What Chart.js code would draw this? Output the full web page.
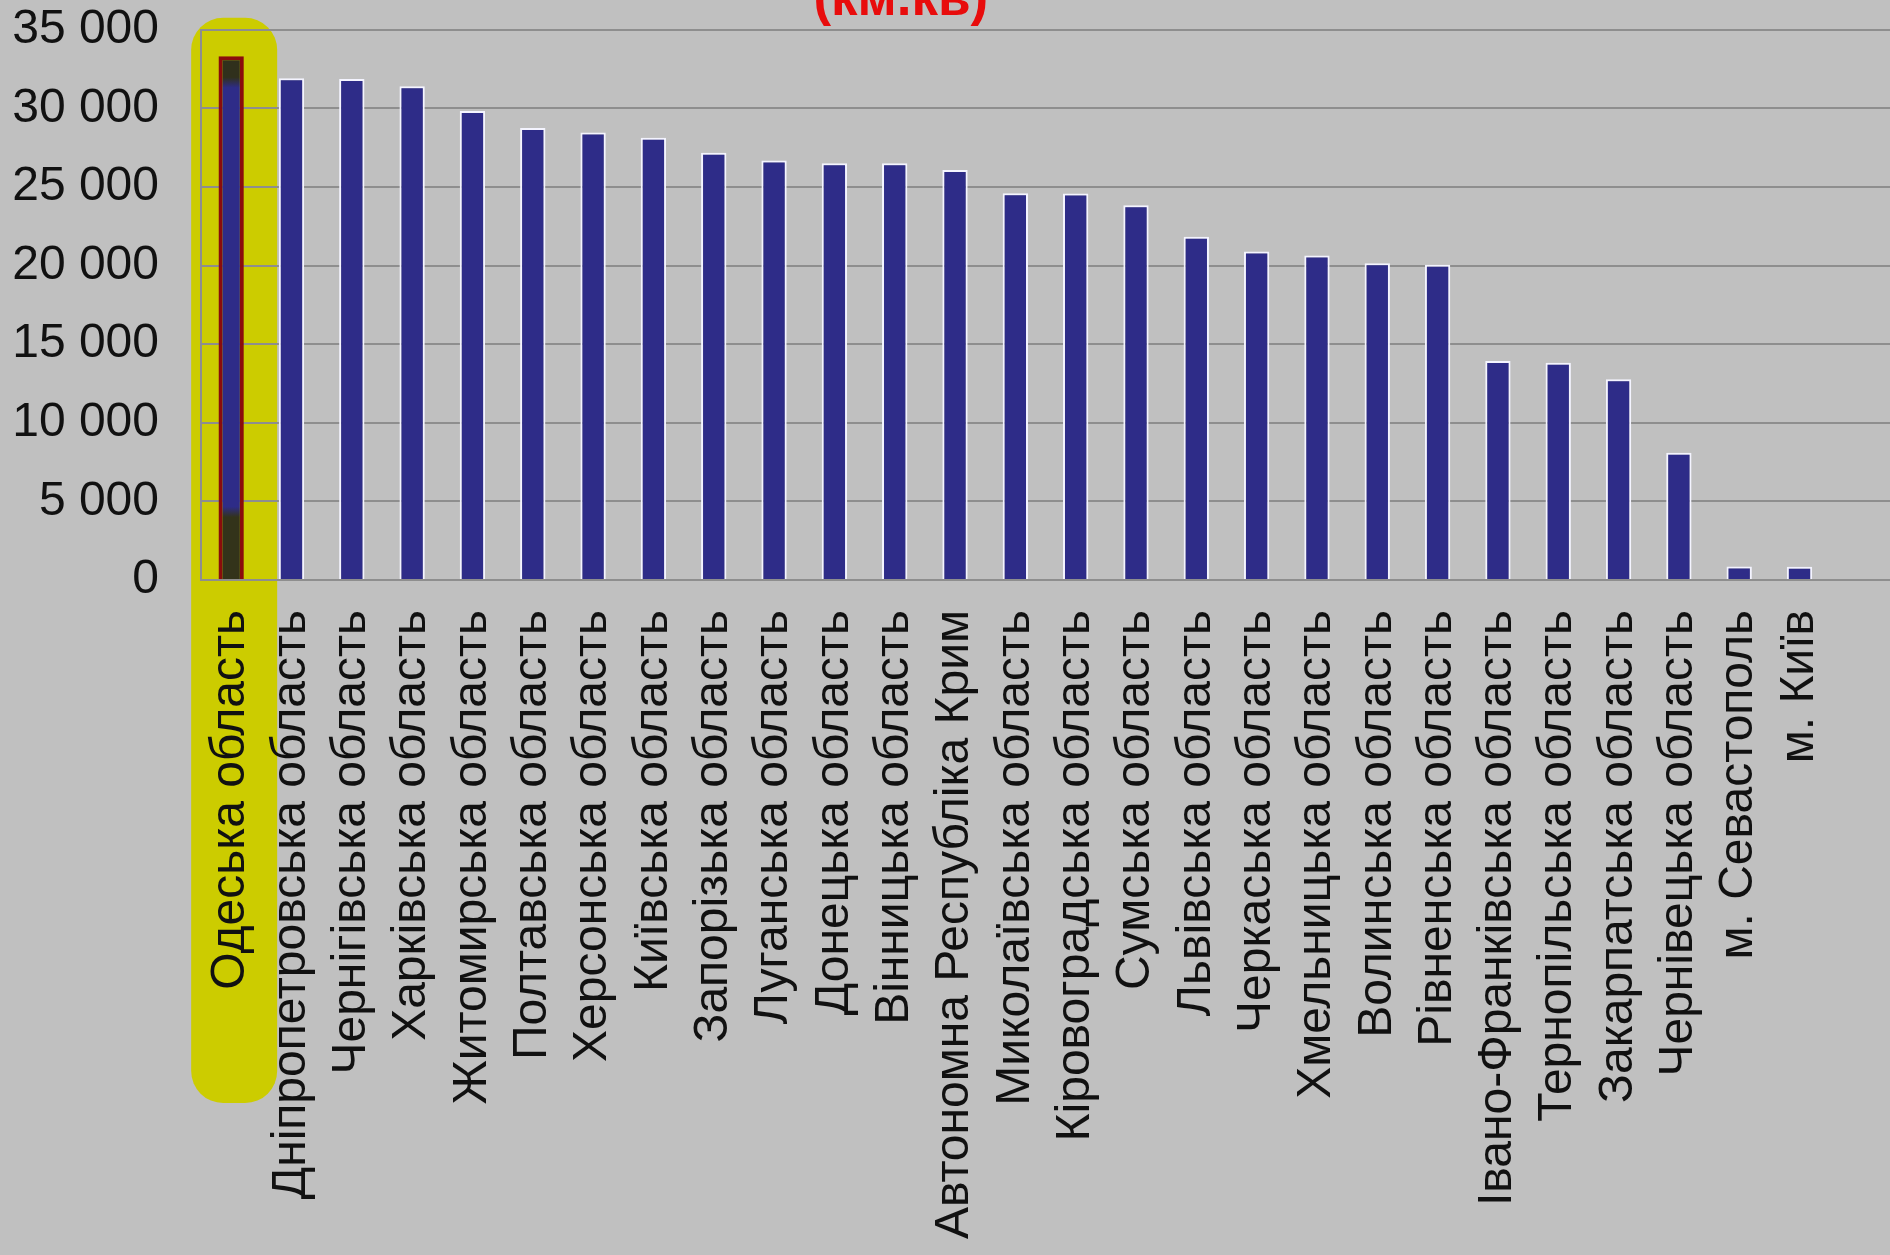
<!DOCTYPE html>
<html>
<head>
<meta charset="utf-8">
<script src="https://cdn.jsdelivr.net/npm/chart.js@4.4.1/dist/chart.umd.min.js"></script>
<style>
    html, body { margin: 0; padding: 0; background: #c0c0c0; overflow: hidden; }
    #wrap { position: absolute; left: 0; top: -41px; width: 1890px; height: 1296px; }
</style>
</head>
<body>
<div id="wrap"><canvas id="AreaCanvas"></canvas></div>
<script>
// площа регіонів, км.кв
var regions = [
    "Одеська область", "Дніпропетровська область", "Чернігівська область",
    "Харківська область", "Житомирська область", "Полтавська область",
    "Херсонська область", "Київська область", "Запорізька область",
    "Луганська область", "Донецька область", "Вінницька область",
    "Автономна Республіка Крим", "Миколаївська область", "Кіровоградська область",
    "Сумська область", "Львівська область", "Черкаська область",
    "Хмельницька область", "Волинська область", "Рівненська область",
    "Івано-Франківська область", "Тернопільська область", "Закарпатська область",
    "Чернівецька область", "м. Севастополь", "м. Київ"
];
var areas = [
    33310, 31914, 31865, 31415, 29832, 28748, 28461, 28131, 27180,
    26684, 26517, 26513, 26081, 24598, 24588, 23834, 21833, 20900,
    20645, 20144, 20047, 13928, 13823, 12777, 8097, 864, 839
];
var yTicks = [0, 5000, 10000, 15000, 20000, 25000, 30000, 35000];
var highlighted = 0;

var barBlue = "#2e2c88";

function firstBarFill(context) {
    var chart = context.chart;
    if (!chart.chartArea || context.dataIndex !== highlighted) {
        return barBlue;
    }
    var y = chart.scales.y;
    var top = y.getPixelForValue(areas[highlighted]);
    var bottom = y.getPixelForValue(0);
    var g = chart.ctx.createLinearGradient(0, top, 0, bottom);
    g.addColorStop(0, "#30301c");
    g.addColorStop(0.04, "#30301c");
    g.addColorStop(0.06, barBlue);
    g.addColorStop(0.86, barBlue);
    g.addColorStop(0.88, "#33331a");
    g.addColorStop(1, "#33331a");
    return g;
}

// жовтий маркер навколо Одеської області
var markerPlugin = {
    id: "marker",
    beforeDraw: function (chart) {
        var ctx = chart.ctx;
        var x = chart.scales.x.getPixelForValue(highlighted);
        var top = chart.chartArea.top - 12;
        var bottom = chart.chartArea.bottom + 523;
        ctx.save();
        ctx.fillStyle = "#cccc00";
        ctx.beginPath();
        ctx.roundRect(x - 40, top, 86, bottom - top, 32);
        ctx.fill();
        ctx.restore();
    }
};

function InitAreaChart() {
    var ctx1 = document.getElementById("AreaCanvas");

    new Chart(ctx1, {
        type: 'bar',
        plugins: [markerPlugin],
        data: {
            labels: regions.concat([""]),
            datasets: [
                {
                    label: "Площа",
                    data: areas.concat([null]),
                    backgroundColor: firstBarFill,
                    borderColor: function (c) {
                        return c.dataIndex === highlighted ? "#8a0c0c" : "#f4f4ff";
                    },
                    borderWidth: function (c) {
                        return c.dataIndex === highlighted ? 4 : 2;
                    },
                    categoryPercentage: 1.0,
                    barPercentage: 0.42
                }
            ]
        },
        options: {
            responsive: true,
            maintainAspectRatio: false,
            animation: false,
            layout: { padding: 0 },
            plugins: {
                legend: { display: false },
                tooltip: { enabled: false },
                title: {
                    display: true,
                    // пробіли зсувають заголовок ліворуч, як на оригіналі
                    text: "(км.кв)\u00a0\u00a0\u00a0\u00a0\u00a0\u00a0",
                    color: "#e80c0c",
                    font: { family: "'Liberation Sans', Arial, sans-serif", size: 53, weight: 'bold', lineHeight: 1.0 },
                    padding: { top: 0, bottom: 3 }
                }
            },
            scales: {
                x: {
                    grid: { display: true, color: 'transparent', drawTicks: false },
                    border: { display: false },
                    ticks: {
                        autoSkip: false,
                        minRotation: 90,
                        maxRotation: 90,
                        padding: 30,
                        color: "#111",
                        font: { family: "'Liberation Sans', Arial, sans-serif", size: 48 }
                    },
                    afterFit: function (scale) {
                        scale.height = 675;
                        scale.paddingLeft = 0;
                        scale.paddingRight = 0;
                    }
                },
                y: {
                    min: 0,
                    max: 35000,
                    afterBuildTicks: function (scale) {
                        scale.ticks = yTicks.map(function (v) { return { value: v }; });
                    },
                    grid: { color: "#8e8e8e", lineWidth: 2, drawTicks: false },
                    border: { display: true, color: "#8e8e8e", width: 2 },
                    ticks: {
                        padding: 42,
                        color: "#111",
                        font: { family: "'Liberation Sans', Arial, sans-serif", size: 48 },
                        callback: function (value) {
                            return String(value).replace(/\B(?=(\d{3})+(?!\d))/g, " ");
                        }
                    },
                    afterFit: function (scale) { scale.width = 201; }
                }
            }
        }
    });
}

InitAreaChart();
</script>
</body>
</html>
